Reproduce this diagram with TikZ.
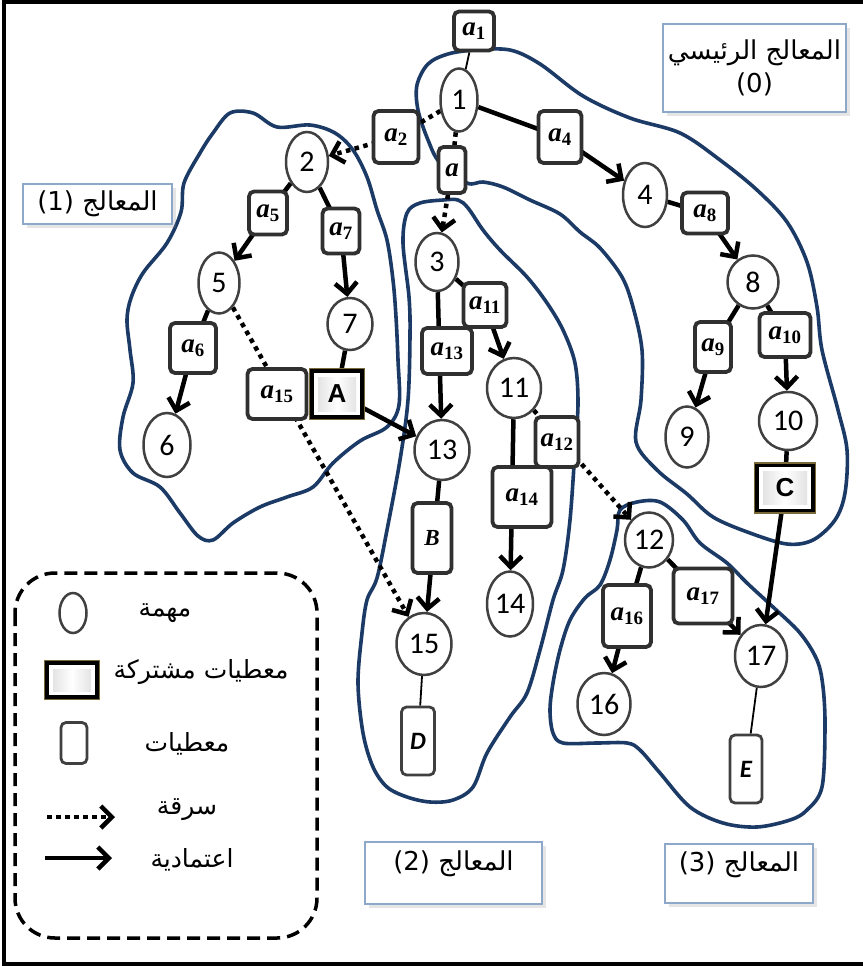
\documentclass[tikz,border=0pt]{standalone}
\usepackage{fontspec}
\setmainfont{Carlito}
\newfontfamily\arabicfont[Script=Arabic]{DejaVu Sans}
\newfontfamily\lsans{Liberation Sans}
\newfontfamily\lserif{Liberation Serif}
\TeXXeTstate=1
\usetikzlibrary{arrows.meta,shapes.geometric,shadows,backgrounds}
\newcommand\dlab[2]{{\lserif\bfseries\itshape #1}\textsubscript{\lserif\bfseries #2}}
\definecolor{blobblue}{HTML}{1C3A66}
\definecolor{nodegray}{HTML}{404040}
\definecolor{boxgray}{HTML}{303030}
\definecolor{labelborder}{HTML}{8EA8C9}
\definecolor{goldborder}{HTML}{7A6A3A}
\tikzset{
  task/.style={ellipse, draw=nodegray, line width=2.5pt, fill=white, inner sep=0pt, font=\fontsize{30}{30}\selectfont},
  data/.style={rectangle, rounded corners=5pt, draw=boxgray, line width=3.8pt, fill=white, inner sep=0pt, font=\fontsize{27}{27}\selectfont},
  shared/.style={rectangle, draw=black, line width=3.5pt, fill=white, inner sep=0pt,
    preaction={draw=goldborder, line width=6.5pt},
    path picture={\shade[left color=gray!28, right color=gray!28, middle color=white]
      ([shift={(6pt,-6pt)}]path picture bounding box.north west) rectangle
      ([shift={(-6pt,6pt)}]path picture bounding box.south east);},
    font=\lsans\bfseries\fontsize{26}{26}\selectfont},
  dep/.style={line width=4.5pt, -{Straight Barb[length=11pt,width=22pt]}},
  steal/.style={line width=4.5pt, dash pattern=on 4.5pt off 4.5pt, -{Straight Barb[length=11pt,width=22pt]}},
  thinline/.style={line width=1.8pt},
  blob/.style={draw=blobblue, line width=3.6pt},
  procbox/.style={rectangle, draw=labelborder, line width=1.2pt, fill=white, inner sep=0pt,
    drop shadow={opacity=0.2, shadow xshift=4pt, shadow yshift=-4pt},
    font=\arabicfont\fontsize{26}{33}\selectfont},
  legtext/.style={font=\arabicfont\fontsize{25}{28}\selectfont, inner sep=0pt}
}
\begin{document}
\begin{tikzpicture}[x=1pt,y=-1pt]
\useasboundingbox (0,0) rectangle (862,966);

% task nodes
\node[task, minimum width=37pt, minimum height=63pt] (n1) at (459,100) {1};
\node[task, minimum width=42pt, minimum height=60pt] (n2) at (307,162) {2};
\node[task, minimum width=41pt, minimum height=61pt] (n5) at (219,283) {5};
\node[task, minimum width=45pt, minimum height=52pt] (n7) at (350,324) {7};
\node[task, minimum width=47pt, minimum height=64pt] (n6) at (167,445) {6};
\node[task, minimum width=43pt, minimum height=58pt] (n3) at (437,262) {3};
\node[task, minimum width=54pt, minimum height=60pt] (n11) at (514,388) {11};
\node[task, minimum width=55pt, minimum height=60pt] (n13) at (442,450) {13};
\node[task, minimum width=46pt, minimum height=65pt] (n14) at (510,604) {14};
\node[task, minimum width=55pt, minimum height=62pt] (n15) at (424,644) {15};
\node[task, minimum width=44pt, minimum height=64pt] (n4) at (645,195) {4};
\node[task, minimum width=51pt, minimum height=53pt] (n8) at (753,282) {8};
\node[task, minimum width=43pt, minimum height=61pt] (n9) at (687,437) {9};
\node[task, minimum width=58pt, minimum height=58pt] (n10) at (788,421) {10};
\node[task, minimum width=48pt, minimum height=55pt] (n12) at (649,540) {12};
\node[task, minimum width=53pt, minimum height=62pt] (n16) at (604,704) {16};
\node[task, minimum width=52pt, minimum height=62pt] (n17) at (761,656) {17};

% data nodes
\node[data, minimum width=40pt, minimum height=39pt] (a1) at (474,31) {\dlab{a}{1}};
\node[data, minimum width=45pt, minimum height=52pt] (a2) at (396,137) {\dlab{a}{2}};
\node[data, minimum width=27pt, minimum height=46pt] (a) at (452,170) {{\lserif\bfseries\itshape a}};
\node[data, minimum width=43pt, minimum height=52pt] (a4) at (560,137) {\dlab{a}{4}};
\node[data, minimum width=38pt, minimum height=43pt] (a5) at (268,213) {\dlab{a}{5}};
\node[data, minimum width=37pt, minimum height=45pt] (a7) at (341,231) {\dlab{a}{7}};
\node[data, minimum width=46pt, minimum height=50pt] (a6) at (193,348) {\dlab{a}{6}};
\node[data, minimum width=59pt, minimum height=50pt] (a15) at (277,394) {\dlab{a}{15}};
\node[shared, minimum width=50pt, minimum height=46pt] (A) at (337,394) {A};
\node[data, minimum width=43pt, minimum height=44pt] (a11) at (485,305) {\dlab{a}{11}};
\node[data, minimum width=50pt, minimum height=46pt] (a13) at (447,351) {\dlab{a}{13}};
\node[data, minimum width=43pt, minimum height=50pt] (a12) at (557,442) {\dlab{a}{12}};
\node[data, minimum width=59pt, minimum height=60pt] (a14) at (522,497) {\dlab{a}{14}};
\node[data, minimum width=39pt, minimum height=70pt, font=\fontsize{23}{23}\selectfont] (B) at (432,538) {{\lserif\bfseries\itshape B}};
\node[data, minimum width=46pt, minimum height=41pt] (a8) at (705,213) {\dlab{a}{8}};
\node[data, minimum width=36pt, minimum height=50pt] (a9) at (713,347) {\dlab{a}{9}};
\node[data, minimum width=51pt, minimum height=44pt] (a10) at (785,335) {\dlab{a}{10}};
\node[shared, minimum width=56pt, minimum height=45pt] (C) at (785,488) {C};
\node[data, minimum width=48pt, minimum height=62pt] (a16) at (627,616) {\dlab{a}{16}};
\node[data, minimum width=59pt, minimum height=55pt] (a17) at (703,596) {\dlab{a}{17}};
\node[data, line width=2.8pt, draw=nodegray, minimum width=33pt, minimum height=68pt, font=\fontsize{25}{25}\selectfont] (D) at (418,741) {\bfseries\itshape D};
\node[data, line width=2.8pt, draw=nodegray, minimum width=32pt, minimum height=68pt, font=\fontsize{25}{25}\selectfont] (E) at (746,769) {\bfseries\itshape E};

% processor labels
\node[procbox, minimum width=183pt, minimum height=88pt, align=center] (L0) at (754.5,68)
  {\beginR المعالج الرئيسي\endR\\(0)};
\node[procbox, minimum width=149pt, minimum height=40pt] (L1) at (97.5,204)
  {(1) \beginR المعالج\endR};
\node[procbox, minimum width=177pt, minimum height=62pt, text height=20pt, text depth=26pt] (L2) at (453.5,873)
  {(2) \beginR المعالج\endR};
\node[procbox, minimum width=148pt, minimum height=59pt, text height=20pt, text depth=24pt] (L3) at (739,873.5)
  {(3) \beginR المعالج\endR};

% legend
\draw[line width=3.5pt, dash pattern=on 13pt off 7pt, rounded corners=40pt] (15,573) rectangle (317,938);
\node[task, draw=nodegray, minimum width=27pt, minimum height=40pt] (lg1) at (73,613) {};
\node[legtext] (lt1) at (165,613) {\beginR مهمة\endR};
\node[shared, minimum width=50pt, minimum height=34pt] (lg2) at (72,680) {};
\node[legtext] (lt2) at (201,672) {\beginR معطيات مشتركة\endR};
\node[data, line width=2.8pt, draw=nodegray, minimum width=26pt, minimum height=41pt] (lg3) at (74,743) {};
\node[legtext] (lt3) at (187,744) {\beginR معطيات\endR};
\coordinate (ls1) at (47,817);
\coordinate (ls2) at (115,817);
\node[legtext] (lt4) at (187,810) {\beginR سرقة\endR};
\coordinate (ld1) at (45,858);
\coordinate (ld2) at (112,858);
\node[legtext] (lt5) at (192,860) {\beginR اعتمادية\endR};
\draw[steal] (ls1) -- (ls2);
\draw[dep] (ld1) -- (ld2);

\begin{scope}[on background layer]
  \fill[white] (0,0) rectangle (862,966);
  % processor regions
  \draw[blob] plot[smooth cycle, tension=0.55] coordinates {
    (440,163) (428,140) (418,110) (417,85) (428,64) (448,54) (475,50) (510,50) (540,64)
    (583,96) (630,118) (680,133) (720,160) (757,190) (787,222) (807,262) (817,307)
    (822,350) (838,410) (847,450) (845,493) (835,520) (813,540) (787,544) (750,533)
    (713,517) (687,494) (657,470) (636,442) (641,400) (642,350) (633,307) (622,277)
    (600,248) (580,232) (560,214) (530,200) (503,187) (483,182) (467,183)};
  \draw[blob] plot[smooth cycle, tension=0.55] coordinates {
    (230,113) (253,113) (277,127) (310,125) (335,133) (353,150) (367,177) (377,210)
    (387,240) (393,280) (396,317) (398,360) (399,405) (387,427) (360,441) (333,463)
    (313,487) (287,497) (260,507) (233,523) (213,540) (198,536) (180,513) (160,487)
    (133,473) (120,450) (123,417) (133,383) (130,350) (127,320) (131,298) (143,273)
    (167,243) (181,212) (184,183) (200,153) (213,133)};
  \draw[blob] plot[smooth cycle, tension=0.55] coordinates {
    (407,213) (420,203) (443,200) (458,200) (468,208) (483,230) (500,250) (527,277)
    (547,303) (563,330) (575,363) (578,403) (575,450) (570,520) (563,570) (553,600)
    (540,650) (527,693) (510,717) (487,753) (473,787) (453,800) (430,802) (407,797)
    (387,787) (373,767) (363,733) (358,683) (362,633) (367,600) (377,578) (387,530)
    (400,460) (408,400) (410,335) (409,297) (403,243)};
  \draw[blob] plot[smooth cycle, tension=0.55] coordinates {
    (620,510) (637,502) (660,502) (683,520) (700,543) (727,563) (747,583) (773,607)
    (800,633) (817,660) (823,687) (825,727) (822,787) (807,810) (790,820) (757,827)
    (723,823) (690,807) (660,773) (640,750) (627,743) (597,743) (563,743) (553,733)
    (550,710) (553,683) (560,650) (570,620) (585,598) (600,585) (610,560) (617,530)};
  % connectors
  \draw[thinline] (a1) -- (n1);
  \draw[steal] (n1) -- (a2.center) -- (n2);
  \draw[steal] (n1) -- (a.center) -- (n3);
  \draw[dep] (n1) -- (a4.center) -- (n4);
  \draw[dep] (n2) -- (a5.center) -- (n5);
  \draw[dep] (n2) -- (a7.center) -- (n7);
  \draw[dep] (n5) -- (a6.center) -- (n6);
  \draw[steal] (n5) -- (n15);
  \draw[line width=4.5pt] (n7) -- (A.center);
  \draw[dep] (A.center) -- (n13);
  \draw[dep] (n3) -- (a11.center) -- (n11);
  \draw[dep] (n3) -- (n13);
  \draw[steal] (n11) -- (n12);
  \draw[dep] (n11) -- (n14);
  \draw[dep] (n13) -- (n15);
  \draw[thinline] (n15) -- (D);
  \draw[dep] (n4) -- (a8.center) -- (n8);
  \draw[dep] (n8) -- (a9.center) -- (n9);
  \draw[dep] (n8) -- (a10.center) -- (n10);
  \draw[line width=4.5pt] (n10) -- (C.center);
  \draw[dep] (C.center) -- (n17);
  \draw[dep] (n12) -- (a16.center) -- (n16);
  \draw[dep] (n12) -- (a17.center) -- (n17);
  \draw[thinline] (n17) -- (E);
\end{scope}

% outer frame (no right side)
\draw[line width=3.5pt] (866,2) -- (4,2) -- (4,964) -- (866,964);
\end{tikzpicture}
\end{document}
